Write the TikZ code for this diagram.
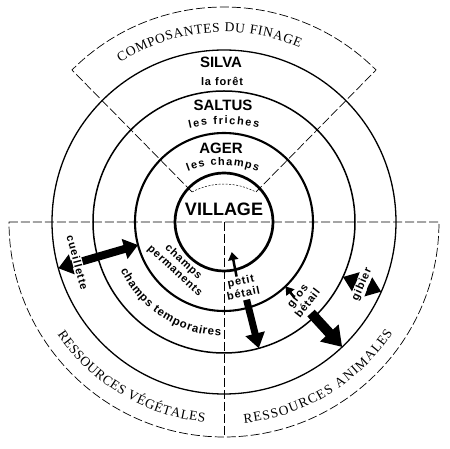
\documentclass[tikz,border=0pt]{standalone}
\usepackage{fontspec}
\setmainfont{Liberation Serif}
\setsansfont{Liberation Sans}
\newfontfamily\spacedsans[LetterSpace=8]{Liberation Sans}
\usetikzlibrary{arrows.meta,decorations.text}

\tikzset{
  frame/.style={line width=0.7pt, dash pattern=on 9pt off 3pt},
  fineframe/.style={line width=0.5pt, dash pattern=on 2pt off 1.5pt},
  zone/.style={font=\sffamily\bfseries\fontsize{15}{15}\selectfont, inner sep=1pt},
  sublabel/.style={font=\spacedsans\bfseries\fontsize{11}{12.5}\selectfont, align=center, inner sep=1pt},
  tinyflow/.style={line width=2.5pt, -{Triangle[length=8pt,width=10pt]}},
  flow/.style={line width=7pt, -{Triangle[length=15pt,width=19pt]}},
  bigflow/.style={line width=10pt, -{Triangle[length=19pt,width=24pt]}},
  twoway/.style={line width=#1, {Triangle[length=14pt,width=20pt]}-{Triangle[length=14pt,width=20pt]}},
  curved/.style={decorate, decoration={text along path, text align={fit to path}, text={#1}}}
}

\begin{document}
\begin{tikzpicture}[x=1pt,y=1pt]
\useasboundingbox (-224,-227) rectangle (226,222);

% rings: silva, saltus, ager, village
\foreach \r/\w in {172/1.3,131/1.5,89/2.1,49/2.7}
  \draw[line width=\w] (0,0) circle[radius=\r];

% dashed frames
\coordinate (iL) at (-32,30);
\coordinate (iR) at (32,30);
\draw[frame] (iL) -- (135:215) arc[start angle=135,end angle=45,radius=215] -- (iR);
\draw[fineframe] (iL) arc[start angle=118,end angle=62,radius=68];
\draw[frame] (-215,0) -- (215,0) arc[start angle=0,end angle=-180,radius=215];
\draw[frame] (0,0) -- (0,-215);

% upper half
\path[curved={|\rmfamily\fontsize{13.5}{13.5}\selectfont|COMPOSANTES DU FINAGE}]
  (123:190) arc[start angle=123,end angle=66.5,radius=190];
\node[zone] (silva) at (-3,160) {SILVA};
\node[sublabel] (foret) at (-2,141) {la forêt};
\node[zone] (saltus) at (-1,117) {SALTUS};
\path[shift={(0,-52)}, curved={|\sffamily\bfseries\fontsize{11}{11}\selectfont|les friches}]
  (103.3:150) arc[start angle=103.3,end angle=76.7,radius=150];
\node[zone] (ager) at (-3,74) {AGER};
\path[shift={(-1,-43)}, curved={|\sffamily\bfseries\fontsize{11}{11}\selectfont|les champs}]
  (110.5:100) arc[start angle=110.5,end angle=69.5,radius=100];
\node[font=\sffamily\bfseries\fontsize{18}{18}\selectfont] (village) at (0,13) {VILLAGE};

% lower half
\path[curved={|\rmfamily\fontsize{13.5}{13.5}\selectfont|RESSOURCES VÉGÉTALES}]
  (214:201) arc[start angle=214,end angle=264.5,radius=201];
\path[curved={|\rmfamily\fontsize{13.5}{13.5}\selectfont|RESSOURCES ANIMALES}]
  (275.7:202) arc[start angle=275.7,end angle=326.7,radius=202];
\path[curved={|\sffamily\bfseries\fontsize{11.5}{11.5}\selectfont|champs temporaires}]
  (205:114) arc[start angle=205,end angle=268.5,radius=114];
\node[sublabel, rotate=-43] (perm) at (-45,-44.5) {champs\\permanents};

% cueillette
\coordinate (cuOut) at (195.6:172);
\coordinate (cuIn) at (195:89);
\draw[twoway=8pt] (cuOut) -- node[sublabel, fill=white, pos=.24, rotate=-75] (cueil) {cueillette} (cuIn);

% petit betail
\node[sublabel, rotate=12] (petit) at (18,-65) {petit\\bétail};
\coordinate (pbTail) at (-77:56);
\coordinate (pbUp) at (-75.5:31);
\coordinate (pbStart) at (-73.8:81);
\coordinate (pbDown) at (-74.6:131);
\draw[tinyflow] (pbTail) -- (pbUp);
\draw[flow] (pbStart) -- (pbDown);

% gros betail
\node[sublabel, rotate=52] (gros) at (79,-78) {gros\\bétail};
\coordinate (gbTail) at (-47:103);
\coordinate (gbIn) at (-46.3:89);
\coordinate (gbStart) at (-46.3:126);
\coordinate (gbOut) at (-46.6:172);
\draw[tinyflow] (gbTail) -- (gbIn);
\draw[bigflow] (gbStart) -- (gbOut);

% gibier
\coordinate (giIn) at (-24.8:131);
\coordinate (giOut) at (-23.9:172);
\draw[twoway=6pt] (giIn) -- node[sublabel, fill=white, rotate=66] (gibier) {gibier} (giOut);
\end{tikzpicture}
\end{document}
